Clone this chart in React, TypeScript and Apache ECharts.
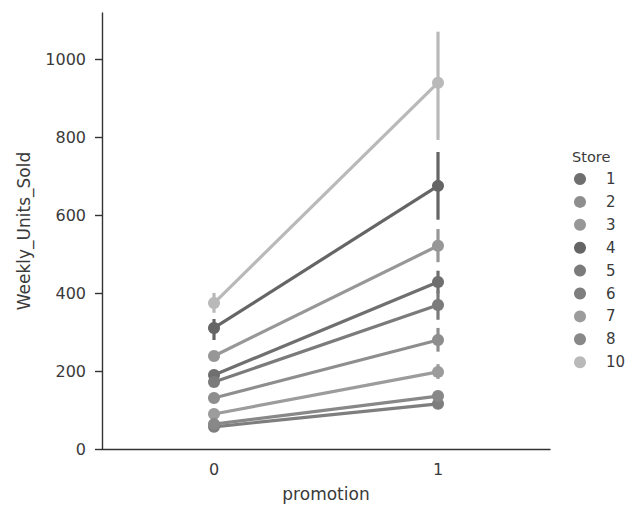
import React, { useEffect, useRef } from "react";
import * as echarts from "echarts";

const promotions = ["0", "1"];
const stores = ["1", "2", "3", "4", "5", "6", "7", "8", "10"];
const storeColors = ["#6f6f6f", "#8e8e8e", "#979797", "#656565", "#7b7b7b", "#7e7e7e", "#9c9c9c", "#888888", "#b9b9b9"];
// mean Weekly_Units_Sold at promotion 0 and 1
const meanValues = [
  [190, 429],
  [131, 280],
  [239, 522],
  [311, 676],
  [172, 370],
  [57, 116],
  [90, 198],
  [64, 136],
  [375, 941],
];
// confidence intervals [low, high] at promotion 0 and 1
const ciLow = [
  [180, 400],
  [124, 250],
  [228, 480],
  [280, 589],
  [163, 332],
  [52, 108],
  [82, 180],
  [58, 124],
  [350, 794],
];
const ciHigh = [
  [200, 458],
  [138, 311],
  [250, 565],
  [334, 763],
  [182, 405],
  [62, 124],
  [98, 218],
  [70, 148],
  [401, 1072],
];
const yTicks = [0, 200, 400, 600, 800, 1000];

export default function App() {
  const ref = useRef<HTMLDivElement>(null);
  useEffect(() => {
    const chart = echarts.init(ref.current!, null, { renderer: "svg" });
    const font = "DejaVu Sans";
    const series: any[] = [];
    stores.forEach((s, i) => {
      const color = storeColors[i];
      series.push({
        name: s,
        type: "line",
        data: meanValues[i],
        symbol: "circle",
        symbolSize: 12,
        lineStyle: { color, width: 3.2 },
        itemStyle: { color },
        z: 3,
      });
      series.push({
        name: s,
        type: "custom",
        data: promotions.map((p, j) => [j, ciLow[i][j], ciHigh[i][j]]),
        renderItem: (params: any, api: any) => {
          const a = api.coord([api.value(0), api.value(1)]);
          const b = api.coord([api.value(0), api.value(2)]);
          return {
            type: "line",
            shape: { x1: a[0], y1: a[1], x2: b[0], y2: b[1] },
            style: { stroke: color, lineWidth: 3.2 },
          };
        },
        z: 2,
      });
    });
    chart.setOption({
      animation: false,
      backgroundColor: "#ffffff",
      textStyle: { fontFamily: font },
      title: {
        text: "Store",
        left: 567,
        top: 144,
        textStyle: { fontFamily: font, fontSize: 14.5, fontWeight: "normal", color: "#3a3a3a" },
      },
      legend: {
        data: stores,
        orient: "vertical",
        left: 569,
        top: 166,
        itemWidth: 12,
        itemHeight: 12,
        itemGap: 6.9,
        icon: "circle",
        textStyle: { fontFamily: font, fontSize: 15, lineHeight: 16, color: "#3a3a3a", padding: [0, 0, 0, 15] },
      },
      grid: { left: 102, right: 77, top: 13, bottom: 59 },
      xAxis: {
        type: "category",
        data: promotions,
        boundaryGap: true,
        name: "promotion",
        nameLocation: "middle",
        nameGap: 36,
        nameTextStyle: { fontFamily: font, fontSize: 17, color: "#3a3a3a" },
        axisLine: { lineStyle: { color: "#333", width: 1.4 } },
        axisTick: { alignWithLabel: true, length: 7, lineStyle: { color: "#333", width: 1.4 } },
        axisLabel: { fontFamily: font, fontSize: 16, color: "#3a3a3a", margin: 12 },
        splitLine: { show: false },
      },
      yAxis: {
        type: "value",
        min: 0,
        max: 1120,
        name: "Weekly_Units_Sold",
        nameLocation: "middle",
        nameGap: 70,
        nameTextStyle: { fontFamily: font, fontSize: 17, color: "#3a3a3a" },
        axisLine: { show: true, lineStyle: { color: "#333", width: 1.4 } },
        axisTick: { show: true, length: 7, customValues: yTicks, lineStyle: { color: "#333", width: 1.4 } },
        axisLabel: {
          fontFamily: font,
          fontSize: 16,
          color: "#3a3a3a",
          margin: 16,
          customValues: yTicks,
          formatter: (v: number) => String(v),
        },
        splitLine: { show: false },
      },
      series,
    });
    return () => chart.dispose();
  }, []);
  return (
    <div
      ref={ref}
      style={{ position: "absolute", left: 0, top: 0, width: 627, height: 508 }}
    />
  );
}
